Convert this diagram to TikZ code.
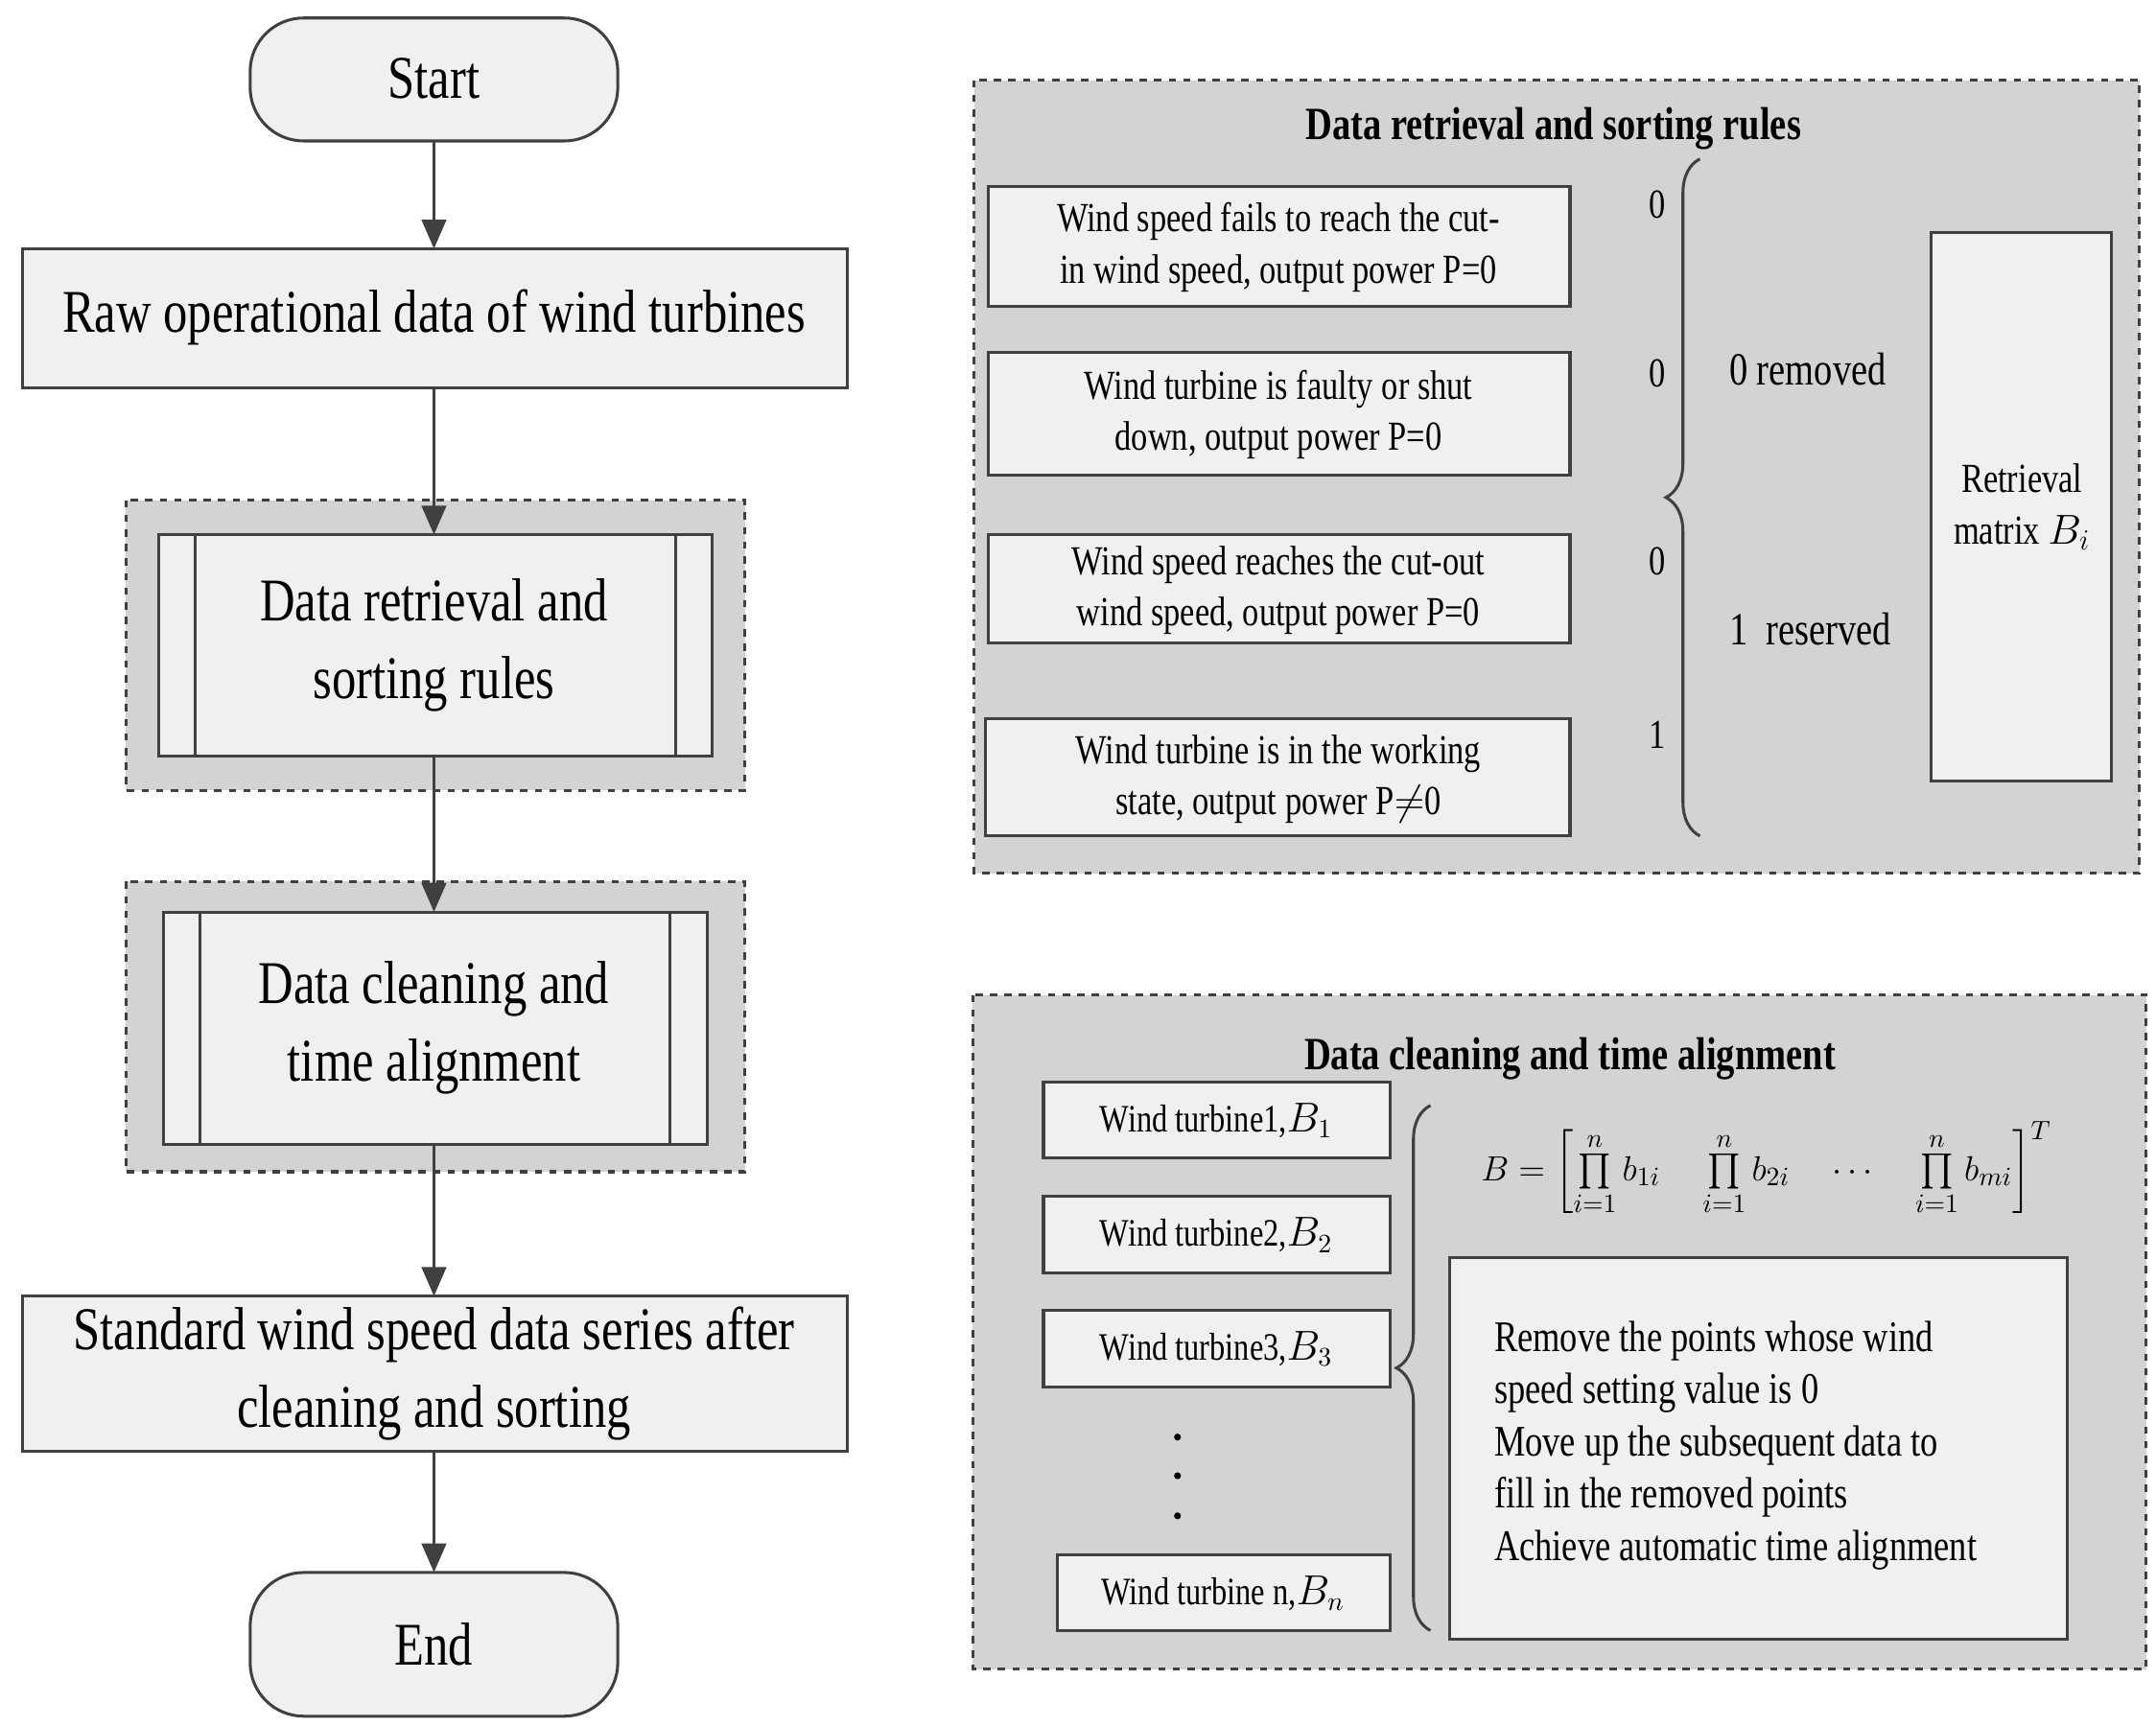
\documentclass[tikz,border=0pt]{standalone}
\usepackage{fontspec}
\usepackage{amsmath}
\setmainfont{Liberation Serif}[FakeStretch=0.8]
\usetikzlibrary{arrows.meta,decorations.pathreplacing}
\definecolor{panel}{HTML}{D3D3D3}
\definecolor{boxf}{HTML}{F0F0F0}
\definecolor{ln}{HTML}{404040}
\begin{document}
\begin{tikzpicture}[x=0.02cm,y=-0.02cm,
  box/.style={draw=ln,line width=1.2pt,fill=boxf,inner sep=0pt},
  dpanel/.style={draw=ln,dashed,line width=1.2pt,fill=panel},
  big/.style={font=\fontsize{25}{30}\selectfont,align=center},
  small/.style={font=\fontsize{17}{21}\selectfont,align=center},
  brc/.style={draw=ln,line width=1.2pt,decorate,decoration={brace,amplitude=14pt}},
  arr/.style={draw=ln,line width=1.5pt,-{Triangle[length=12pt,width=10pt]}}]
\useasboundingbox (0,0) rectangle (1560,1249);
% left flow
\draw[box,rounded corners=22pt] (181,13) rectangle (447,102);
\node[big] (start) at (314,57) {Start};
\draw[box] (16,180) rectangle (613,281);
\node[big] (raw) at (314,230) {Raw operational data of wind turbines};
\draw[dpanel] (91,362) rectangle (539,572);
\draw[box] (115,387) rectangle (515,547);
\draw[ln,line width=1.2pt] (141,387)--(141,547) (489,387)--(489,547);
\node[big] (ret) at (314,467) {Data retrieval and\\[2pt]sorting rules};
\draw[dpanel] (91,638) rectangle (539,848);
\draw[box] (118,660) rectangle (512,828);
\draw[ln,line width=1.2pt] (145,660)--(145,828) (485,660)--(485,828);
\node[big] (cle) at (314,744) {Data cleaning and\\[2pt]time alignment};
\draw[box] (16,938) rectangle (613,1050);
\node[big] (std) at (314,994) {Standard wind speed data series after\\[2pt]cleaning and sorting};
\draw[box,rounded corners=22pt] (181,1138) rectangle (447,1242);
\node[big] (end) at (314,1190) {End};
\coordinate (s1) at (314,102); \coordinate (s2) at (314,180);
\coordinate (r1) at (314,281); \coordinate (r2) at (314,387);
\coordinate (d1) at (314,547); \coordinate (d2) at (314,660);
\coordinate (c1) at (314,828); \coordinate (c2) at (314,938);
\coordinate (e1) at (314,1050); \coordinate (e2) at (314,1138);
\draw[arr] (s1)--(s2); \draw[arr] (r1)--(r2); \draw[arr] (d1)--(d2);
\draw[arr] (c1)--(c2); \draw[arr] (e1)--(e2);
% panel 1
\draw[dpanel] (705,58) rectangle (1548,632);
\node[font=\fontsize{19}{23}\selectfont\bfseries] (t1) at (1124,93) {Data retrieval and sorting rules};
\draw[box] (715,135) rectangle (1136,222);
\node[small] (a1) at (925,179) {Wind speed fails to reach the cut-\\in wind speed, output power P=0};
\draw[box] (715,255) rectangle (1136,344);
\node[small] (a2) at (925,300) {Wind turbine is faulty or shut\\down, output power P=0};
\draw[box] (715,387) rectangle (1136,465);
\node[small] (a3) at (925,427) {Wind speed reaches the cut-out\\wind speed, output power P=0};
\draw[box] (713,520) rectangle (1136,605);
\node[small] (a4) at (925,564) {Wind turbine is in the working\\state, output power P$\neq$0};
\node[small] (v1) at (1199,148) {0};
\node[small] (v2) at (1199,270) {0};
\node[small] (v3) at (1199,406) {0};
\node[small] (v4) at (1199,532) {1};
\coordinate (b1a) at (1230,605); \coordinate (b1b) at (1230,115);
\draw[brc] (b1a)--(b1b);
\node[font=\fontsize{19}{23}\selectfont] (rm) at (1308,267) {0 removed};
\node[font=\fontsize{19}{23}\selectfont] (rs) at (1310,455) {1~~reserved};
\draw[box] (1397,168) rectangle (1528,565);
\node[small] (bm) at (1463,367) {Retrieval\\matrix $B_i$};
% panel 2
\draw[dpanel] (704,720) rectangle (1553,1208);
\node[font=\fontsize{19}{23}\selectfont\bfseries] (t2) at (1136,766) {Data cleaning and time alignment};
\tikzset{wt/.style={font=\fontsize{16}{19}\selectfont}}
\draw[box] (755,783) rectangle (1006,838);
\node[wt] (w1) at (880,811) {Wind turbine1,$B_1$};
\draw[box] (755,866) rectangle (1006,921);
\node[wt] (w2) at (880,894) {Wind turbine2,$B_2$};
\draw[box] (755,948) rectangle (1006,1004);
\node[wt] (w3) at (880,976) {Wind turbine3,$B_3$};
\foreach \yy in {1040,1068,1097} \fill[black] (852,\yy) circle (2.5);
\draw[box] (765,1125) rectangle (1006,1180);
\node[wt] (wn) at (885,1153) {Wind turbine n,$B_n$};
\coordinate (b2a) at (1035,1180); \coordinate (b2b) at (1035,800);
\draw[brc] (b2a)--(b2b);
\node[font=\fontsize{15}{18}\selectfont] (f) at (1278,846) {$B=\left[\prod\limits_{i=1}^{n} b_{1i}\quad \prod\limits_{i=1}^{n} b_{2i}\quad\cdots\quad \prod\limits_{i=1}^{n} b_{mi}\right]^{T}$};
\draw[box] (1049,910) rectangle (1496,1186);
\node[font=\fontsize{18}{21.5}\selectfont,align=left,anchor=west] (tx) at (1075,1046) {Remove the points whose wind\\speed setting value is 0\\Move up the subsequent data to\\fill in the removed points\\Achieve automatic time alignment};
\end{tikzpicture}
\end{document}
